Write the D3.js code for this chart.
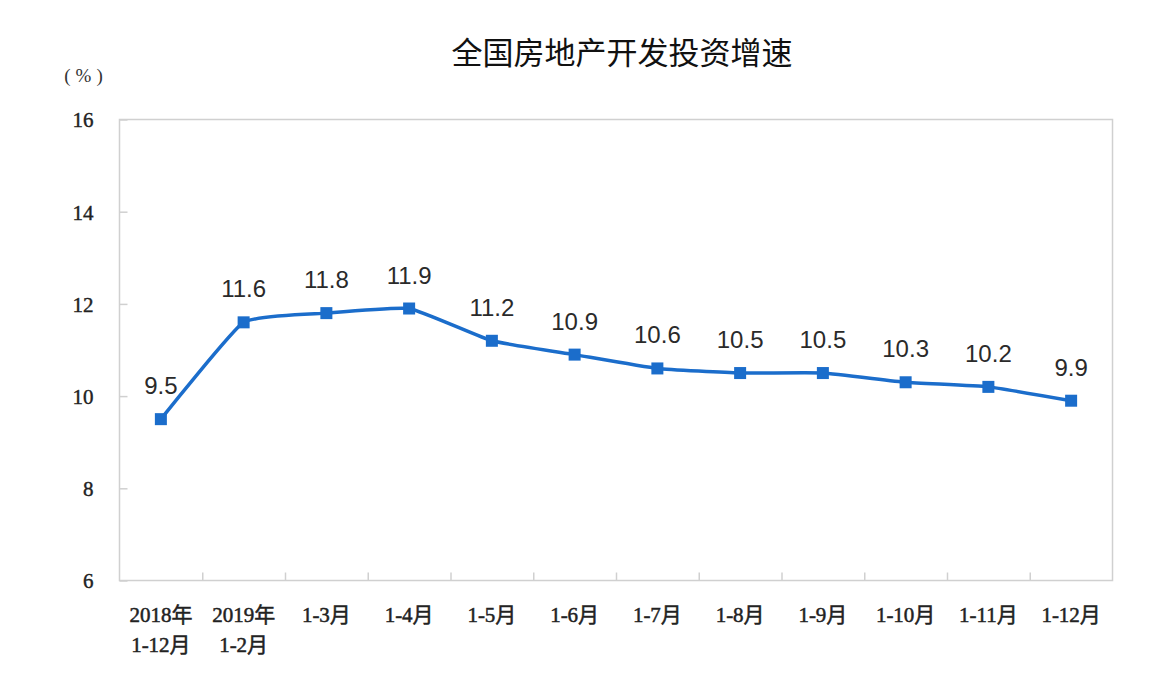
<!DOCTYPE html>
<html><head><meta charset="utf-8">
<script src="https://cdn.jsdelivr.net/npm/d3@7"></script>
<style>body{margin:0;background:#fff;}svg{display:block;}</style>
</head><body>
<svg id="c" width="1162" height="694"></svg>
<script>
const categories = [["2018年","1-12月"],["2019年","1-2月"],["1-3月"],["1-4月"],["1-5月"],["1-6月"],["1-7月"],["1-8月"],["1-9月"],["1-10月"],["1-11月"],["1-12月"]];
const values = [9.5, 11.6, 11.8, 11.9, 11.2, 10.9, 10.6, 10.5, 10.5, 10.3, 10.2, 9.9];
const yTicks = [6, 8, 10, 12, 14, 16];
const title = "全国房地产开发投资增速";
const unit = "(%)";

const svg = d3.select("#c");
const L = 119.5, R = 1112.5, T = 119.5, B = 580.5;
const x = d3.scaleBand().domain(d3.range(categories.length)).range([L, R]);
const y = d3.scaleLinear().domain([6, 16]).range([B, T]);
const axisColor = "#d0d0d0";
const lineColor = "#1b6dcb";
const tickFont = "'Liberation Serif','Noto Sans CJK SC',serif";

svg.append("text").attr("x", 622).attr("y", 64).attr("text-anchor", "middle")
  .attr("font-family", "'Noto Sans CJK SC',sans-serif").attr("font-size", 31).attr("fill", "#111").text(title);
svg.append("text").attr("x", 86).attr("y", 82).attr("text-anchor", "middle")
  .attr("font-family", "'Liberation Serif',serif").attr("font-size", 19).attr("letter-spacing", 5)
  .attr("fill", "#333").text(unit);

// frame
svg.append("rect").attr("x", L).attr("y", T).attr("width", R - L).attr("height", B - T)
  .attr("fill", "none").attr("stroke", axisColor).attr("stroke-width", 1.5);

// y axis
const yAxis = d3.axisLeft(y).tickValues(yTicks).tickSize(-8).tickPadding(26);
const gy = svg.append("g").attr("transform", `translate(${L},0)`).call(yAxis);
gy.select(".domain").remove();
gy.selectAll(".tick line").attr("stroke", axisColor).attr("stroke-width", 1.5);
gy.selectAll(".tick text").attr("font-family", tickFont).attr("font-size", 21).attr("fill", "#222")
  .attr("stroke", "#222").attr("stroke-width", 0.4).attr("dy", "0.35em");

// x axis ticks at internal boundaries
const xb = d3.scaleLinear().domain([0, categories.length]).range([L, R]);
const gx = svg.append("g").attr("transform", `translate(0,${B})`)
  .call(d3.axisBottom(xb).tickValues(d3.range(1, categories.length)).tickSize(-8).tickFormat(""));
gx.select(".domain").remove();
gx.selectAll(".tick line").attr("stroke", axisColor).attr("stroke-width", 1.5);

// x labels
const xl = svg.append("g");
categories.forEach((lines, i) => {
  const t = xl.append("text").attr("x", x(i) + x.bandwidth() / 2).attr("y", 622)
    .attr("text-anchor", "middle").attr("font-family", tickFont).attr("font-size", 21)
    .attr("fill", "#222").attr("stroke", "#222").attr("stroke-width", 0.5);
  lines.forEach((s, k) => t.append("tspan").attr("x", x(i) + x.bandwidth() / 2).attr("dy", k ? 30 : 0).text(s));
});

// line
const cx = i => x(i) + x.bandwidth() / 2;
svg.append("path").datum(values)
  .attr("d", d3.line().x((d, i) => cx(i)).y(d => y(d)).curve(d3.curveCardinal.tension(0.6)))
  .attr("fill", "none").attr("stroke", lineColor).attr("stroke-width", 3.5);

svg.selectAll(".m").data(values).join("rect").attr("class", "m")
  .attr("x", (d, i) => cx(i) - 6).attr("y", d => y(d) - 6)
  .attr("width", 12).attr("height", 12).attr("fill", lineColor);

svg.selectAll(".lbl").data(values).join("text").attr("class", "lbl")
  .attr("x", (d, i) => cx(i)).attr("y", d => y(d) - 25)
  .attr("text-anchor", "middle").attr("font-family", "'Liberation Sans',Arial,sans-serif")
  .attr("font-size", 24).attr("fill", "#2a2a2a").text(d => d.toFixed(1));
</script>
</body></html>
